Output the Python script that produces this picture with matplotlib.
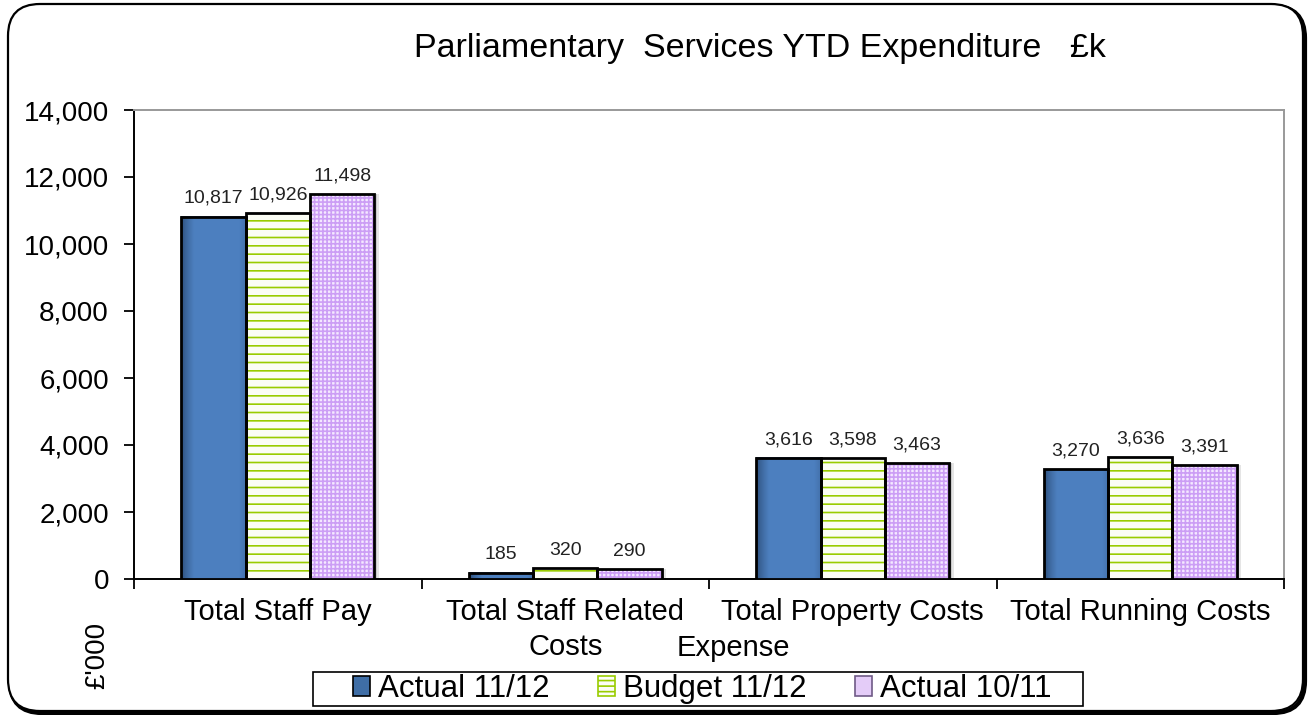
import matplotlib
matplotlib.use("Agg")
import matplotlib.pyplot as plt
import numpy as np
from matplotlib.patches import FancyBboxPatch, Patch, Rectangle
from matplotlib.transforms import IdentityTransform
from matplotlib.ticker import FuncFormatter

plt.rcParams['font.family'] = ['Liberation Sans', 'DejaVu Sans']
plt.rcParams['hatch.linewidth'] = 1.2

# ---- data -------------------------------------------------------------
categories = ["Total Staff Pay", "Total Staff Related\nCosts",
              "Total Property Costs", "Total Running Costs"]
series_names = ["Actual 11/12", "Budget 11/12", "Actual 10/11"]
actual_1112 = [10817, 185, 3616, 3270]
budget_1112 = [10926, 320, 3598, 3636]
actual_1011 = [11498, 290, 3463, 3391]
y_ticks = [0, 2000, 4000, 6000, 8000, 10000, 12000, 14000]

W, H = 1312, 715
fig = plt.figure(figsize=(W / 100, H / 100), dpi=100)

# ---- rounded outer frame with a hard shadow ---------------------------
frame_shadow = FancyBboxPatch((10, 2), 1295, 707,
                              boxstyle="round,pad=0,rounding_size=32",
                              transform=IdentityTransform(),
                              facecolor="none", edgecolor="black", lw=3.0,
                              zorder=-3)
frame = FancyBboxPatch((8, 4), 1295, 707,
                       boxstyle="round,pad=0,rounding_size=32",
                       transform=IdentityTransform(),
                       facecolor="white", edgecolor="black", lw=1.6,
                       zorder=-2)
fig.add_artist(frame_shadow)
fig.add_artist(frame)

ax = fig.add_axes([134 / W, 1 - 579 / H, 1150 / W, 469 / H])
ax.set_zorder(1)

x = np.arange(len(categories))
w = 0.224


def blue_gradient(bar):
    x0, y0 = bar.get_x(), bar.get_y()
    bw, bh = bar.get_width(), bar.get_height()
    t = np.linspace(0, 1, 64)
    shade = np.clip(t / 0.2, 0, 1) ** 0.7
    shade = shade * (1 - 0.25 * np.clip((t - 0.9) / 0.1, 0, 1))
    dark = np.array([0.17, 0.30, 0.47])
    base = np.array([0.30, 0.50, 0.75])
    rgb = dark[None, :] + (base - dark)[None, :] * shade[:, None]
    img = rgb[None, :, :]
    ax.imshow(img, extent=[x0, x0 + bw, y0, y0 + bh], aspect="auto",
              origin="lower", zorder=3, interpolation="bilinear")


def soft_shadow(bars):
    # faint grey halo offset to the lower right of each bar
    for bar in bars:
        x0, bw, bh = bar.get_x(), bar.get_width(), bar.get_height()
        for k, a in ((0.010, 0.10), (0.006, 0.12)):
            ax.bar(x0 + bw / 2 + k, bh, bw + k, bottom=0,
                   facecolor="black", alpha=a, linewidth=0, zorder=2)


# Actual 11/12 : blue gradient bars
b1 = ax.bar(x - w, actual_1112, w, facecolor="none", edgecolor="black",
            linewidth=2.0, zorder=4)
for bar in b1:
    blue_gradient(bar)

# Budget 11/12 : green horizontal stripes on white
ax.bar(x, budget_1112, w, facecolor="#fbfdf5", edgecolor="#99cc00",
       hatch="--", linewidth=0, zorder=3)
b2 = ax.bar(x, budget_1112, w, facecolor="none", edgecolor="black",
            linewidth=2.0, zorder=4)

# Actual 10/11 : lavender checks
ax.bar(x + w, actual_1011, w, facecolor="#f4e8ff", edgecolor="#cc9ef5",
       hatch="++++", linewidth=0, zorder=3)
b3 = ax.bar(x + w, actual_1011, w, facecolor="none", edgecolor="black",
            linewidth=2.0, zorder=4)

soft_shadow(b3)

# value labels
for bars, vals in ((b1, actual_1112), (b2, budget_1112), (b3, actual_1011)):
    for bar, v in zip(bars, vals):
        ax.annotate(f"{v:,}", (bar.get_x() + bar.get_width() / 2, v),
                    xytext=(0, 7), textcoords="offset points",
                    ha="center", va="bottom", fontsize=14, color="#222222",
                    zorder=5)

ax.set_xlim(-0.5, len(categories) - 0.5)
ax.set_ylim(0, 14000)

ax.set_xticks(x)
ax.set_xticklabels(categories, fontsize=21, linespacing=1.3)
ax.set_xticks(np.arange(len(categories) + 1) - 0.5, minor=True)
ax.tick_params(axis="x", which="major", length=0, pad=14)
ax.tick_params(axis="x", which="minor", length=7, width=1.3,
               direction="out", color="black")

ax.set_yticks(y_ticks)
ax.yaxis.set_major_formatter(FuncFormatter(lambda v, p: f"{int(v):,}"))
ax.tick_params(axis="y", length=7, width=1.3, direction="out",
               labelsize=20, pad=11)

for side in ("left", "bottom"):
    ax.spines[side].set_color("black")
    ax.spines[side].set_linewidth(1.4)
for side in ("top", "right"):
    ax.spines[side].set_color("#999999")
    ax.spines[side].set_linewidth(1.4)

# titles
fig.text(760 / W, 1 - 48 / H, "Parliamentary  Services YTD Expenditure   £k",
         ha="center", va="center", fontsize=24.5)
fig.text(733 / W, 1 - 648 / H, "Expense", ha="center", va="center",
         fontsize=21)
fig.text(97 / W, 1 - 655 / H, "£'000", ha="center", va="center",
         rotation=90, fontsize=20)

# legend: entries without a frame, the box drawn as its own rectangle
handles = [
    Patch(facecolor="#3f6ea6", edgecolor="black", linewidth=1.2),
    Patch(facecolor="#fbfdf5", edgecolor="#99cc00", hatch="---",
          linewidth=1.2),
    Patch(facecolor="#e4ccf8", edgecolor="#6f5a86", linewidth=1.2),
]
leg = fig.legend(handles, series_names, loc="center",
                 bbox_to_anchor=(702 / W, 1 - 689 / H), ncol=3, fontsize=22.5,
                 frameon=False, handlelength=0.55, handleheight=0.6,
                 handletextpad=0.25, columnspacing=1.55, borderpad=0.1,
                 borderaxespad=0)
fig.add_artist(Rectangle((313, H - 706), 770, 34,
                         transform=IdentityTransform(), facecolor="none",
                         edgecolor="black", lw=1.2, zorder=5))

fig.savefig("out.png", dpi=100, facecolor="white")
